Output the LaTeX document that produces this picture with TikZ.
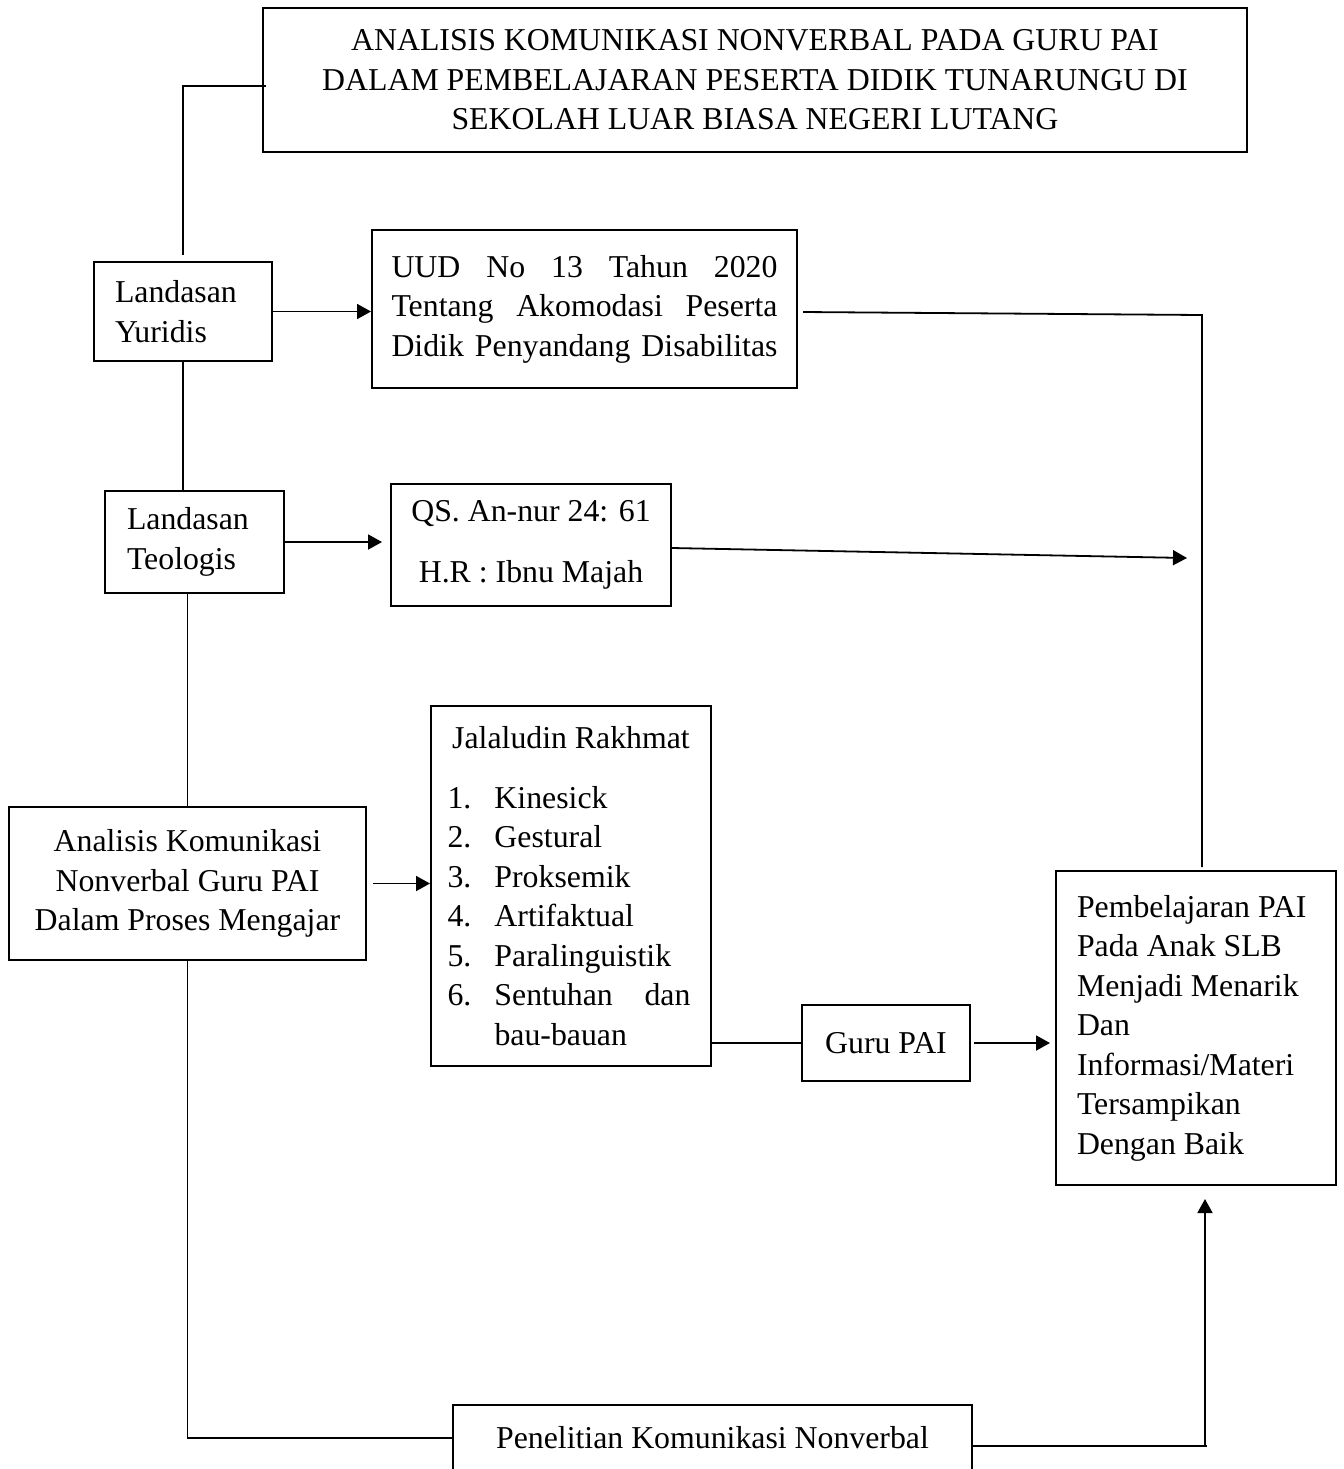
\documentclass[tikz,border=0pt]{standalone}
\usepackage{fontspec}
\setmainfont{Liberation Serif}
\usetikzlibrary{arrows.meta,calc}
\begin{document}
\begin{tikzpicture}[x=0.5pt,y=-0.5pt,
  every node/.style={font=\fontsize{15.9pt}{19.75pt}\selectfont},
  box/.style={draw,line width=1pt,inner sep=0pt},
  conn/.style={line width=0.9pt},
  arr/.style={line width=0.9pt,-{Triangle[length=7pt,width=7.5pt]}}]
\clip (0,0) rectangle (1344,1469);
\fill[white] (0,0) rectangle (1344,1469);

\node[box,minimum width=492pt,minimum height=72pt,align=flush center] (title) at (755,80)
  {ANALISIS KOMUNIKASI NONVERBAL PADA GURU PAI\\DALAM PEMBELAJARAN PESERTA DIDIK TUNARUNGU DI\\SEKOLAH LUAR BIASA NEGERI LUTANG};

\node[box,minimum width=89pt,minimum height=49.5pt,text width=68pt,align=flush left] (yur) at (183,311.5)
  {Landasan\\Yuridis};

\node[box,minimum width=212.5pt,minimum height=79pt,text width=193pt,align=flush left] (uud) at (584.5,309)
  {\makebox[193pt][l]{UUD\hfill No\hfill 13\hfill Tahun\hfill 2020}\\\makebox[193pt][l]{Tentang\hfill Akomodasi\hfill Peserta}\\\makebox[193pt][l]{Didik\hfill Penyandang\hfill Disabilitas}};

\node[box,minimum width=89.5pt,minimum height=51pt,text width=67.5pt,align=flush left] (teo) at (194.5,542)
  {Landasan\\Teologis};

\node[box,minimum width=140pt,minimum height=61pt,align=flush center] (qs) at (531,545)
  {QS. An-nur 24: 61\\[10.75pt]H.R : Ibnu Majah};

\node[box,minimum width=178.5pt,minimum height=76.5pt,align=flush center] (ana) at (187.5,883.5)
  {Analisis Komunikasi\\Nonverbal Guru PAI\\Dalam Proses Mengajar};

\node[box,minimum width=140pt,minimum height=180pt,text width=123.5pt,align=flush left] (jal) at (571,886)
  {\makebox[123.5pt]{Jalaludin Rakhmat}\\[10pt]
   \makebox[23.5pt][l]{1.}Kinesick\\
   \makebox[23.5pt][l]{2.}Gestural\\
   \makebox[23.5pt][l]{3.}Proksemik\\
   \makebox[23.5pt][l]{4.}Artifaktual\\
   \makebox[23.5pt][l]{5.}Paralinguistik\\
   \makebox[23.5pt][l]{6.}\makebox[98pt][l]{Sentuhan\hfill dan}\\
   \hspace*{23.5pt}bau-bauan};

\node[box,minimum width=84pt,minimum height=38pt] (guru) at (886,1043) {Guru PAI};

\node[box,minimum width=140pt,minimum height=157pt,text width=119pt,align=flush left] (pem) at (1196,1028)
  {Pembelajaran PAI\\Pada Anak SLB\\Menjadi Menarik\\Dan\\Informasi/Materi\\Tersampikan\\Dengan Baik};

\node[box,minimum width=259.5pt,minimum height=33pt] (pen) at (712.5,1438)
  {\raisebox{0.5pt}{Penelitian Komunikasi Nonverbal}};

% connectors
\draw[conn] ([xshift=2pt,yshift=-3pt]title.west) -| ([yshift=3pt]yur.north);
\draw[conn] (yur.south) -- (yur.south |- teo.north);
\draw[conn] (ana.north |- teo.south) -- (ana.north);
\draw[conn] (ana.south) |- (pen.west);

\draw[arr] (yur.east) -- (yur.east -| uud.west);
\draw[arr] (teo.east) -- ([xshift=-4pt]teo.east -| qs.west);
\draw[arr] ([xshift=3pt]ana.east) -- (ana.east -| jal.west);
\draw[conn] (guru.west -| jal.east) -- (guru.west);
\draw[arr] ([xshift=1.5pt]guru.east) -- ([xshift=-2.5pt]guru.east -| pem.west);

\coordinate (c1) at (1202,315);
\draw[conn] ([xshift=2.5pt,yshift=-1.5pt]uud.east) -- (c1) -- ([yshift=1.5pt]c1 |- pem.north);

\coordinate (c2) at (1187,558);
\draw[arr] ([yshift=-1.5pt]qs.east) -- (c2);

\coordinate (c4) at (1207,1446);
\coordinate (c5) at (1205,1446);
\draw[conn] ([yshift=-4pt]pen.east) -- (c4);
\draw[arr,shorten >=6.5pt] (c5) -- (c5 |- pem.south);
\end{tikzpicture}
\end{document}
